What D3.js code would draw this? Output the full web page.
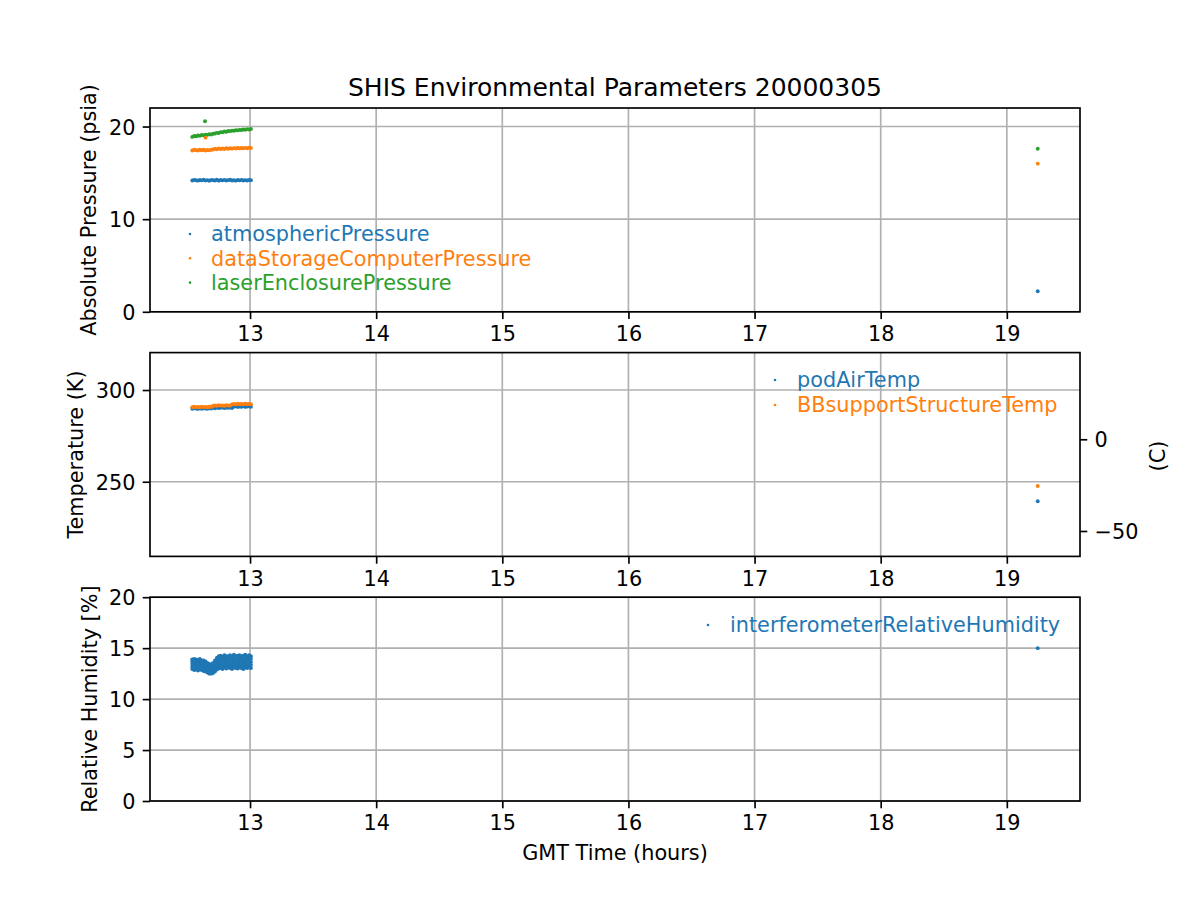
<!DOCTYPE html>
<html>
<head>
<meta charset="utf-8">
<script src="https://cdn.jsdelivr.net/npm/d3@7"></script>
<style>
  html, body { margin: 0; padding: 0; background: #fff; }
  svg { display: block; font-family: "DejaVu Sans", sans-serif; }
</style>
</head>
<body>
<svg id="chart" width="1200" height="900"></svg>
<script>
// ---------------- data ----------------
const titleText = "SHIS Environmental Parameters 20000305";
const times = [12.542,12.557,12.572,12.587,12.602,12.617,12.632,12.647,12.662,12.677,12.692,12.707,12.722,12.737,12.752,12.767,12.782,12.797,12.812,12.827,12.842,12.857,12.872,12.887,12.902,12.917,12.932,12.947,12.962,12.977,12.992,13.007,19.245];

const atmosphericPressure = [14.18,14.24,14.20,14.16,14.23,14.19,14.25,14.17,14.21,14.15,14.24,14.20,14.18,14.25,14.16,14.22,14.19,14.24,14.17,14.21,14.25,14.18,14.20,14.16,14.23,14.19,14.24,14.17,14.21,14.18,14.23,14.20,2.22];
const dataStorageComputerPressure = [17.42,17.50,17.45,17.41,17.49,17.44,17.50,17.42,17.47,17.43,17.50,17.52,17.60,17.55,17.62,17.57,17.63,17.58,17.65,17.60,17.66,17.61,17.67,17.62,17.68,17.64,17.69,17.65,17.70,17.66,17.72,17.68,15.99];
const laserEnclosurePressure = [18.88,18.97,18.95,19.03,19.00,19.08,19.05,19.12,19.10,19.16,19.14,19.22,19.24,19.32,19.30,19.40,19.38,19.46,19.44,19.52,19.50,19.56,19.54,19.60,19.58,19.64,19.62,19.68,19.65,19.72,19.68,19.74,17.60];
const dataStorageSpikes = [[12.647, 18.80]];
const laserEnclosureSpikes = [[12.643, 20.57]];

const podAirTemp = [289.8,290.1,289.9,289.7,290.0,289.8,290.1,289.9,289.8,290.0,289.9,290.3,290.1,290.4,290.2,290.3,290.5,290.2,290.4,290.3,290.5,290.2,290.9,291.1,290.8,291.0,290.9,291.2,290.8,291.0,291.1,290.9,239.4];
const BBsupportStructureTemp = [290.6,290.9,290.7,290.8,290.6,290.9,290.7,290.8,290.6,290.9,290.8,291.4,291.6,291.4,291.7,291.5,291.6,291.4,291.7,291.5,291.6,292.2,292.4,292.2,292.5,292.3,292.4,292.2,292.5,292.3,292.4,292.3,247.7];

// several readings per sample interval
const interferometerRelativeHumidity = [
  [12.95,13.20,13.45,13.70,13.90],[12.85,13.15,13.40,13.65,13.95],[12.90,13.10,13.40,13.70,13.90],
  [12.80,13.10,13.35,13.60,13.85],[12.90,13.15,13.40,13.65,13.95],[12.85,13.10,13.35,13.60,13.80],
  [12.75,13.00,13.30,13.55,13.80],[12.70,12.95,13.20,13.45,13.70],[12.60,12.85,13.10,13.35,13.55],
  [12.50,12.75,13.00,13.25,13.45],[12.50,12.70,12.95,13.20,13.40],[12.55,12.80,13.05,13.30,13.55],
  [12.70,12.95,13.25,13.55,13.80],[12.90,13.15,13.45,13.75,14.05],[13.00,13.30,13.60,13.90,14.20],
  [13.05,13.35,13.65,13.95,14.25],[12.95,13.25,13.55,13.85,14.15],[13.10,13.40,13.70,14.00,14.30],
  [13.00,13.30,13.60,13.90,14.20],[13.10,13.35,13.65,13.95,14.20],[13.05,13.35,13.65,13.95,14.30],
  [12.95,13.25,13.55,13.85,14.15],[13.10,13.40,13.70,14.00,14.35],[13.05,13.35,13.65,13.95,14.20],
  [13.00,13.30,13.60,13.90,14.25],[13.10,13.40,13.70,14.00,14.30],[13.05,13.35,13.65,13.95,14.20],
  [12.95,13.30,13.60,13.90,14.25],[13.10,13.40,13.70,14.00,14.35],[13.05,13.35,13.65,13.95,14.20],
  [13.10,13.40,13.70,14.00,14.30],[13.05,13.35,13.65,13.95,14.20],[15.00]
];

const xTicks = [13,14,15,16,17,18,19];
const pressureTicks = [0,10,20];
const tempTicksK = [250,300];
const tempTicksC = [-50,0];
const humidityTicks = [0,5,10,15,20];

const pressureNames = ["atmosphericPressure","dataStorageComputerPressure","laserEnclosurePressure"];
const tempNames = ["podAirTemp","BBsupportStructureTemp"];
const humidityNames = ["interferometerRelativeHumidity"];
const colors = ["#1f77b4","#ff7f0e","#2ca02c"];

// ---------------- layout ----------------
const L = 150, R = 1080;
const FS = 20.8, GRID = "#b0b0b0", LW = 1.67, TICK = 7.3, PAD = 7.3, DOT = 1.95;
const svg = d3.select("#chart");
svg.append("rect").attr("width",1200).attr("height",900).attr("fill","#fff");

const ext = d3.extent(times);
const span = ext[1]-ext[0];
const x = d3.scaleLinear().domain([ext[0]-0.05*span, ext[1]+0.05*span]).range([L,R]);

function makePanel(top, bottom, yDomain, yTicks) {
  const y = d3.scaleLinear().domain(yDomain).range([bottom, top]);
  const g = svg.append("g");
  g.append("g").selectAll("line").data(xTicks).join("line")
    .attr("x1", d=>x(d)).attr("x2", d=>x(d)).attr("y1", top).attr("y2", bottom)
    .attr("stroke", GRID).attr("stroke-width", LW);
  g.append("g").selectAll("line").data(yTicks).join("line")
    .attr("x1", L).attr("x2", R).attr("y1", d=>y(d)).attr("y2", d=>y(d))
    .attr("stroke", GRID).attr("stroke-width", LW);
  const data = g.append("g");
  const xa = g.append("g").attr("transform", `translate(0,${bottom})`)
    .call(d3.axisBottom(x).tickValues(xTicks).tickFormat(d3.format("d")).tickSize(TICK).tickPadding(PAD));
  const ya = g.append("g").attr("transform", `translate(${L},0)`)
    .call(d3.axisLeft(y).tickValues(yTicks).tickFormat(d3.format("d")).tickSize(TICK).tickPadding(PAD));
  [xa, ya].forEach(a => {
    a.select(".domain").remove();
    a.selectAll(".tick line").attr("stroke","#000").attr("stroke-width",LW);
    a.selectAll(".tick text").attr("fill","#000").style("font-size", FS+"px").style("font-family","DejaVu Sans");
  });
  ya.selectAll(".tick text").attr("dy","0.36em");
  g.append("rect").attr("x", L).attr("y", top).attr("width", R-L).attr("height", bottom-top)
    .attr("fill","none").attr("stroke","#000").attr("stroke-width", LW);
  return {y, data, g};
}

function dots(layer, pts, color) {
  layer.append("g").selectAll("circle").data(pts).join("circle")
    .attr("cx", d=>x(d[0])).attr("cy", d=>d[1]).attr("r", DOT).attr("fill", color);
}

function legend(items, mx, tx, y0, step) {
  const lg = svg.append("g");
  items.forEach((name, i) => {
    const yy = y0 + i*step;
    lg.append("circle").attr("cx", mx).attr("cy", yy).attr("r", 1.3).attr("fill", colors[i]);
    lg.append("text").attr("x", tx).attr("y", yy).attr("dy","0.36em")
      .attr("fill", colors[i]).style("font-size", FS+"px").text(name);
  });
}

function yLabel(text, cx, cy) {
  svg.append("text").attr("transform", `translate(${cx},${cy}) rotate(-90)`)
    .attr("text-anchor","middle").attr("dy","0.36em").style("font-size", FS+"px").attr("fill","#000").text(text);
}

// ---- panel 1: pressure
const p1 = makePanel(108, 311.8, [0, 22.0], pressureTicks);
[atmosphericPressure, dataStorageComputerPressure, laserEnclosurePressure].forEach((s, i) => {
  dots(p1.data, times.map((t, k) => [t, p1.y(s[k])]), colors[i]);
});
dots(p1.data, dataStorageSpikes.map(d => [d[0], p1.y(d[1])]), colors[1]);
dots(p1.data, laserEnclosureSpikes.map(d => [d[0], p1.y(d[1])]), colors[2]);
legend(pressureNames, 190, 211, 234, 24.3);
yLabel("Absolute Pressure (psia)", 88, (108+311.8)/2);

// ---- panel 2: temperature
const p2 = makePanel(352.6, 556.4, [209.3, 320.4], tempTicksK);
[podAirTemp, BBsupportStructureTemp].forEach((s, i) => {
  dots(p2.data, times.map((t, k) => [t, p2.y(s[k])]), colors[i]);
});
const yC = d3.scaleLinear().domain([209.3-273.15, 320.4-273.15]).range([556.4, 352.6]);
const ra = p2.g.append("g").attr("transform", `translate(${R},0)`)
  .call(d3.axisRight(yC).tickValues(tempTicksC).tickFormat(d => d < 0 ? "\u2212" + Math.abs(d) : d).tickSize(TICK).tickPadding(PAD));
ra.select(".domain").remove();
ra.selectAll(".tick line").attr("stroke","#000").attr("stroke-width",LW);
ra.selectAll(".tick text").attr("fill","#000").attr("dy","0.36em").style("font-size", FS+"px").style("font-family","DejaVu Sans");
legend(tempNames, 775, 797, 380, 25);
yLabel("Temperature (K)", 75, (352.6+556.4)/2);
yLabel("(C)", 1157, 456);

// ---- panel 3: humidity
const p3 = makePanel(597.2, 801, [0, 20], humidityTicks);
const hPts = [];
times.forEach((t, k) => interferometerRelativeHumidity[k].forEach(v => hPts.push([t, p3.y(v)])));
dots(p3.data, hPts, colors[0]);
legend(humidityNames, 708, 730, 625, 25);
yLabel("Relative Humidity [%]", 89, (597.2+801)/2);

svg.append("text").attr("x", (L+R)/2).attr("y", 853).attr("dy","0.36em").attr("text-anchor","middle")
  .style("font-size", FS+"px").attr("fill","#000").text("GMT Time (hours)");

svg.append("text").attr("x", (L+R)/2).attr("y", 96).attr("text-anchor","middle")
  .style("font-size", "25px").attr("fill","#000").text(titleText);
</script>
</body>
</html>
